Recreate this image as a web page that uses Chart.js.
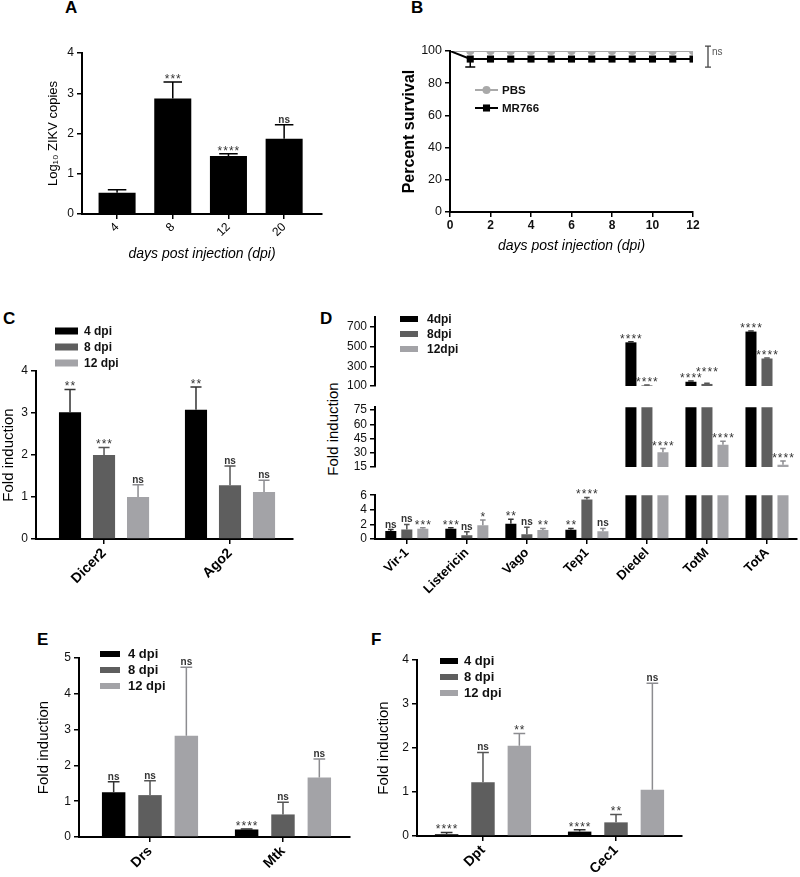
<!DOCTYPE html>
<html>
<head>
<meta charset="utf-8">
<script src="https://cdn.jsdelivr.net/npm/chart.js@4.4.1/dist/chart.umd.min.js"></script>
<style>
  body { margin: 0; background: #fff; }
  #fig { position: relative; width: 800px; height: 877px; overflow: hidden; font-family: "Liberation Sans", Arial, sans-serif; }
  #fig canvas { position: absolute; }
  .tag { position: absolute; font-weight: bold; font-size: 17px; line-height: 1; }
  .vt { position: absolute; width: 140px; text-align: center; font-size: 15px; line-height: 18px; transform: rotate(-90deg); white-space: nowrap; }
</style>
</head>
<body>
<div id="fig">
  <div class="tag" style="left:65px;top:-1px">A</div>
  <div class="tag" style="left:411px;top:-1px">B</div>
  <div class="tag" style="left:3px;top:310px">C</div>
  <div class="tag" style="left:320px;top:310px">D</div>
  <div class="tag" style="left:37px;top:631px">E</div>
  <div class="tag" style="left:371px;top:631px">F</div>
  <div class="vt" style="left:263px;top:420px">Fold induction</div>
  <canvas id="cA"></canvas>
  <canvas id="cB"></canvas>
  <canvas id="cC"></canvas>
  <canvas id="cDtop"></canvas>
  <canvas id="cDmid"></canvas>
  <canvas id="cDbot"></canvas>
  <canvas id="cE"></canvas>
  <canvas id="cF"></canvas>
</div>
<script>
// ---- data ----

// A: viral load
const DPI_A = ['4', '8', '12', '20'];
const ZIKV = [0.53, 2.87, 1.44, 1.87];
const ZIKV_ERR = [0.60, 3.28, 1.50, 2.22];
const ZIKV_SIG = ['', '***', '****', 'ns'];
const A_TICKS = [0, 1, 2, 3, 4];

// B: survival
const DAYS = [0, 1, 2, 3, 4, 5, 6, 7, 8, 9, 10, 11, 12];
const PBS = [100, 100, 100, 100, 100, 100, 100, 100, 100, 100, 100, 100, 100];
const MR766 = [100, 95, 95, 95, 95, 95, 95, 95, 95, 95, 95, 95, 95];
const MR766_LOW = [null, 90, null, null, null, null, null, null, null, null, null, null, null];
const B_NS_RANGE = [90, 103];
const B_TICKS_X = [0, 2, 4, 6, 8, 10, 12];
const B_TICKS_Y = [0, 20, 40, 60, 80, 100];

// C: RNAi genes
const GENES_C = ['Dicer2', 'Ago2'];
const C_4 = [3.02, 3.08], C_4_ERR = [3.56, 3.62], C_4_SIG = ['**', '**'];
const C_8 = [2.00, 1.28], C_8_ERR = [2.18, 1.74], C_8_SIG = ['***', 'ns'];
const C_12 = [1.00, 1.12], C_12_ERR = [1.29, 1.40], C_12_SIG = ['ns', 'ns'];
const C_TICKS = [0, 1, 2, 3, 4];

// D: broken axis, three segments
const GENES_D = ['Vir-1', 'Listericin', 'Vago', 'Tep1', 'Diedel', 'TotM', 'TotA'];
const D_4 = [1.1, 1.4, 2.1, 1.28, 543, 143, 652];
const D_4_ERR = [1.3, 1.55, 2.7, 1.45, 548, 150, 658];
const D_4_SIG = ['ns', '***', '**', '**', '****', '****', '****'];
const D_8 = [1.3, 0.5, 0.64, 5.4, 106, 121, 379];
const D_8_ERR = [2.0, 1.0, 1.6, 5.7, 110, 128, 384];
const D_8_SIG = ['ns', 'ns', 'ns', '****', '****', '****', '****'];
const D_12 = [1.4, 1.9, 1.24, 1.06, 30.6, 38.4, 17.5];
const D_12_ERR = [1.55, 2.6, 1.45, 1.45, 34.4, 42.2, 21.3];
const D_12_SIG = ['***', '*', '**', 'ns', '****', '****', '****'];
const D_TOP_TICKS = [100, 300, 500, 700];
const D_MID_TICKS = [15, 30, 45, 60, 75];
const D_BOT_TICKS = [0, 2, 4, 6];

// E: Toll pathway
const GENES_E = ['Drs', 'Mtk'];
const E_4 = [1.25, 0.21], E_4_ERR = [1.54, 0.22], E_4_SIG = ['ns', '****'];
const E_8 = [1.17, 0.63], E_8_ERR = [1.57, 0.97], E_8_SIG = ['ns', 'ns'];
const E_12 = [2.83, 1.66], E_12_ERR = [4.74, 2.18], E_12_SIG = ['ns', 'ns'];
const E_TICKS = [0, 1, 2, 3, 4, 5];

// F: IMD pathway
const GENES_F = ['Dpt', 'Cec1'];
const F_4 = [0.04, 0.10], F_4_ERR = [0.08, 0.14], F_4_SIG = ['****', '****'];
const F_8 = [1.22, 0.31], F_8_ERR = [1.90, 0.49], F_8_SIG = ['ns', '**'];
const F_12 = [2.05, 1.05], F_12_ERR = [2.33, 3.47], F_12_SIG = ['**', 'ns'];
const F_TICKS = [0, 1, 2, 3, 4];

const SERIES = ['4 dpi', '8 dpi', '12 dpi'];
const SERIES_D = ['4dpi', '8dpi', '12dpi'];

// ---- styling ----
const FONT = '"Liberation Sans", Arial, "DejaVu Sans", sans-serif';
const COL = ['#000000', '#5e5e5e', '#a3a3a7'];
const ERRCOL = ['#333333', '#555555', '#8c8c90'];

Chart.defaults.font.family = FONT;
Chart.defaults.color = '#000';
Chart.defaults.animation = false;

// error bars + significance labels
const sigMarks = {
  id: 'sigMarks',
  afterDatasetsDraw(chart) {
    const ctx = chart.ctx, ys = chart.scales.y;
    const placed = [];
    ctx.save();
    chart.data.datasets.forEach((ds, i) => {
      const meta = chart.getDatasetMeta(i);
      meta.data.forEach((el, j) => {
        const v = ds.data[j].y;
        if (v < ys.min - 1e-9 || v > ys.max + 1e-9) return;
        const half = el.width ? el.width * 0.25 : 5;
        const base = ys.getPixelForValue(v);
        let tip = base;
        ctx.strokeStyle = ds.errColor || '#000';
        ctx.lineWidth = 1.5;
        const bar = (to) => {
          ctx.beginPath();
          ctx.moveTo(el.x, base); ctx.lineTo(el.x, to);
          ctx.moveTo(el.x - half, to); ctx.lineTo(el.x + half, to);
          ctx.stroke();
        };
        if (ds.errHigh && ds.errHigh[j] != null) { tip = ys.getPixelForValue(ds.errHigh[j]); bar(tip); }
        if (ds.errLow && ds.errLow[j] != null) bar(ys.getPixelForValue(ds.errLow[j]));

        const s = ds.sig && ds.sig[j];
        if (!s) return;
        const star = s[0] === '*';
        ctx.font = star ? '12px ' + FONT : 'bold 10px ' + FONT;
        ctx.letterSpacing = star ? '1px' : '0px';
        const w = ctx.measureText(s).width;
        let yb = star ? tip + 1 : tip - 2;
        const up = star ? 9 : 8, down = star ? 4 : 0;
        const box = { l: el.x - w / 2, r: el.x + w / 2, t: yb - up, b: yb - down };
        let moved = true;
        while (moved) {
          moved = false;
          for (const p of placed) {
            if (Math.min(box.r, p.r) - Math.max(box.l, p.l) > 2 && box.b > p.t && box.t < p.b) {
              const dy = box.b - p.t + 1;
              box.t -= dy; box.b -= dy; yb -= dy; moved = true;
            }
          }
        }
        placed.push(box);
        ctx.fillStyle = '#333';
        ctx.textAlign = 'center';
        ctx.textBaseline = 'alphabetic';
        ctx.fillText(s, el.x + (star ? 0.5 : 0), yb);
      });
    });
    ctx.restore();
  }
};

// legend drawn inside the plot
const keyBox = {
  id: 'keyBox',
  afterDraw(chart, args, o) {
    if (!o.on) return;
    const ctx = chart.ctx, a = chart.chartArea;
    ctx.save();
    ctx.font = o.font;
    ctx.textBaseline = 'middle';
    ctx.textAlign = 'left';
    chart.data.datasets.forEach((ds, i) => {
      const x = a.left + o.dx, y = a.top + o.dy + i * o.step;
      if (o.line) {
        ctx.strokeStyle = ds.borderColor; ctx.lineWidth = 2;
        ctx.beginPath(); ctx.moveTo(x, y); ctx.lineTo(x + o.w, y); ctx.stroke();
        ctx.fillStyle = ds.backgroundColor;
        Chart.helpers.drawPoint(ctx, { pointStyle: ds.pointStyle, radius: ds.legendRadius, rotation: 0, borderWidth: 0 }, x + o.w / 2, y);
      } else {
        ctx.fillStyle = ds.backgroundColor;
        ctx.fillRect(x, y - o.h / 2, o.w, o.h);
      }
      ctx.fillStyle = '#111';
      ctx.fillText(ds.label, x + o.w + o.gap, y + 0.5);
    });
    ctx.restore();
  }
};

// "ns" bracket right of the survival plot
const nsBracket = {
  id: 'nsBracket',
  afterDraw(chart, args, o) {
    if (!o.range) return;
    const ctx = chart.ctx, ys = chart.scales.y, a = chart.chartArea;
    const x = a.right + o.dx;
    const y1 = ys.getPixelForValue(o.range[0]), y2 = ys.getPixelForValue(o.range[1]);
    ctx.save();
    ctx.strokeStyle = '#444'; ctx.lineWidth = 1.3;
    ctx.beginPath();
    ctx.moveTo(x, y1); ctx.lineTo(x, y2);
    ctx.moveTo(x - 3, y1); ctx.lineTo(x + 3, y1);
    ctx.moveTo(x - 3, y2); ctx.lineTo(x + 3, y2);
    ctx.stroke();
    ctx.fillStyle = '#555';
    ctx.font = '10px ' + FONT;
    ctx.textBaseline = 'middle';
    ctx.fillText(o.text, x + 4, (y1 + y2) / 2 - 4);
    ctx.restore();
  }
};

function place(cv, area, m) {
  const w = area.r - area.l + m.l + m.r, h = area.b - area.t + m.t + m.b;
  cv.width = w; cv.height = h;
  cv.style.left = (area.l - m.l) + 'px';
  cv.style.top = (area.t - m.t) + 'px';
  cv.style.width = w + 'px';
  cv.style.height = h + 'px';
}

function yAxis(o, m) {
  return {
    type: 'linear', min: o.min, max: o.max,
    afterBuildTicks: s => { s.ticks = o.ticks.map(v => ({ value: v })); },
    afterFit: s => { s.width = m.l; },
    border: { display: true, color: '#000', width: 2 },
    grid: { display: true, drawOnChartArea: false, drawTicks: true, tickLength: 5, color: '#000', lineWidth: 1.5 },
    ticks: { autoSkip: false, font: o.font || { size: 12 }, color: '#111', padding: 3 },
    title: o.title
      ? { display: true, text: o.title, font: o.titleFont || { size: 15 }, padding: 0, color: '#000' }
      : { display: false }
  };
}

function barPanel(id, area, m, cfg) {
  const cv = document.getElementById(id);
  place(cv, area, m);
  const xs = {
    type: 'linear', display: !cfg.noX, min: cfg.xmin, max: cfg.xmax, offset: false,
    afterBuildTicks: s => { s.ticks = cfg.labels.map((_, i) => ({ value: i })); },
    afterFit: s => { s.height = m.b; },
    border: { display: true, color: '#000', width: 2 },
    grid: { display: true, drawOnChartArea: false, offset: false, tickLength: 5, color: '#000', lineWidth: 1.5 },
    ticks: { autoSkip: false, minRotation: 45, maxRotation: 45, padding: 1, font: cfg.xFont, color: '#000',
             callback: v => cfg.labels[v] },
    title: cfg.xTitle
      ? { display: true, text: cfg.xTitle, font: { size: 14, style: 'italic' }, padding: { top: 0, bottom: 0 }, color: '#000' }
      : { display: false }
  };
  return new Chart(cv, {
    type: 'bar',
    data: {
      datasets: cfg.sets.map(s => ({
        label: s.label,
        data: s.values.map((v, i) => ({ x: i, y: v })),
        errHigh: s.err, sig: s.sig, errColor: s.errColor,
        backgroundColor: s.color,
        categoryPercentage: cfg.cat, barPercentage: cfg.bar,
        clip: 0
      }))
    },
    options: {
      responsive: false,
      layout: { padding: { left: 0, right: m.r, top: m.t, bottom: cfg.noX ? m.b : 0 } },
      scales: { x: xs, y: yAxis(cfg.y, m) },
      plugins: { legend: { display: false }, tooltip: { enabled: false }, keyBox: cfg.key || {} }
    },
    plugins: [sigMarks, keyBox]
  });
}

function threeSets(labels, v, e, s) {
  return labels.map((lab, k) => ({ label: lab, values: v[k], err: e[k], sig: s[k], color: COL[k], errColor: ERRCOL[k] }));
}

// ---- A ----
barPanel('cA', { l: 82, t: 53, r: 322, b: 214 }, { l: 36, t: 20, r: 15, b: 49 }, {
  labels: DPI_A, xmin: -0.63, xmax: 3.68, cat: 1, bar: 0.665,
  xFont: { size: 12 }, xTitle: 'days post injection (dpi)',
  y: { min: 0, max: 4, ticks: A_TICKS, title: 'Log\u2081\u2080 ZIKV copies', titleFont: { size: 13 } },
  sets: [{ label: 'ZIKV', values: ZIKV, err: ZIKV_ERR, sig: ZIKV_SIG, color: '#000', errColor: '#000' }]
});

// ---- B ----
(function () {
  const cv = document.getElementById('cB');
  const area = { l: 450, t: 51, r: 693, b: 212 }, m = { l: 50, t: 15, r: 40, b: 43 };
  place(cv, area, m);
  new Chart(cv, {
    type: 'line',
    data: {
      datasets: [
        { label: 'PBS', data: DAYS.map((d, i) => ({ x: d, y: PBS[i] })),
          borderColor: '#a9a9a9', backgroundColor: '#a9a9a9', borderWidth: 2,
          pointStyle: 'circle', pointRadius: DAYS.map(d => d ? 4 : 0), pointBorderWidth: 0, legendRadius: 4, order: 2 },
        { label: 'MR766', data: DAYS.map((d, i) => ({ x: d, y: MR766[i] })),
          borderColor: '#000', backgroundColor: '#000', borderWidth: 2,
          pointStyle: 'rect', pointRadius: DAYS.map(d => d ? 5 : 0), pointBorderWidth: 0, legendRadius: 5,
          errLow: MR766_LOW, errColor: '#000', order: 1 }
      ]
    },
    options: {
      responsive: false,
      layout: { padding: { left: 0, right: m.r, top: m.t, bottom: 0 } },
      scales: {
        x: {
          type: 'linear', min: 0, max: 12,
          afterBuildTicks: s => { s.ticks = B_TICKS_X.map(v => ({ value: v })); },
          afterFit: s => { s.height = m.b; },
          border: { display: true, color: '#000', width: 2 },
          grid: { display: true, drawOnChartArea: false, tickLength: 5, color: '#000', lineWidth: 1.5 },
          ticks: { maxRotation: 0, autoSkip: false, padding: 1, font: { size: 12, weight: 'bold' }, color: '#111' },
          title: { display: true, text: 'days post injection (dpi)', font: { size: 14, style: 'italic' }, padding: 0, color: '#000' }
        },
        y: yAxis({ min: 0, max: 100, ticks: B_TICKS_Y, title: 'Percent survival', titleFont: { size: 16, weight: 'bold' }, font: { size: 12.5 } }, m)
      },
      plugins: {
        legend: { display: false }, tooltip: { enabled: false },
        keyBox: { on: true, line: true, dx: 25, dy: 39, step: 18, w: 23, gap: 4, font: 'bold 11.5px ' + FONT },
        nsBracket: { range: B_NS_RANGE, dx: 15, text: 'ns' }
      }
    },
    plugins: [sigMarks, keyBox, nsBracket]
  });
})();

// ---- C ----
barPanel('cC', { l: 36, t: 371, r: 293, b: 539 }, { l: 36, t: 60, r: 10, b: 50 }, {
  labels: GENES_C, xmin: -0.54, xmax: 1.5, cat: 0.81, bar: 0.65,
  xFont: { size: 14, weight: 'bold' },
  y: { min: 0, max: 4, ticks: C_TICKS, title: 'Fold induction' },
  sets: threeSets(SERIES, [C_4, C_8, C_12], [C_4_ERR, C_8_ERR, C_12_ERR], [C_4_SIG, C_8_SIG, C_12_SIG]),
  key: { on: true, dx: 19, dy: -40, step: 16, w: 23, h: 7, gap: 6, font: 'bold 12px ' + FONT }
});

// ---- D (three stacked segments of one broken axis) ----
const D_SETS = threeSets(SERIES_D, [D_4, D_8, D_12], [D_4_ERR, D_8_ERR, D_12_ERR], [D_4_SIG, D_8_SIG, D_12_SIG]);
const D_X = { labels: GENES_D, xmin: -0.53, xmax: 6.5, cat: 0.8, bar: 0.69, xFont: { size: 13, weight: 'bold' }, sets: D_SETS };
barPanel('cDtop', { l: 375, t: 317, r: 797, b: 394 }, { l: 40, t: 12, r: 3, b: 8 }, Object.assign({}, D_X, {
  noX: true, y: { min: 100, max: 800, ticks: D_TOP_TICKS },
  key: { on: true, dx: 25, dy: 2, step: 15, w: 18, h: 6, gap: 9, font: 'bold 12px ' + FONT }
}));
barPanel('cDmid', { l: 375, t: 407, r: 797, b: 475 }, { l: 40, t: 10, r: 3, b: 8 }, Object.assign({}, D_X, {
  noX: true, y: { min: 15, max: 78, ticks: D_MID_TICKS }
}));
barPanel('cDbot', { l: 375, t: 493, r: 797, b: 539 }, { l: 40, t: 8, r: 3, b: 64 }, Object.assign({}, D_X, {
  y: { min: 0, max: 6, ticks: D_BOT_TICKS }
}));

// ---- E ----
barPanel('cE', { l: 79, t: 658, r: 350, b: 837 }, { l: 44, t: 15, r: 10, b: 40 }, {
  labels: GENES_E, xmin: -0.534, xmax: 1.504, cat: 0.82, bar: 0.645,
  xFont: { size: 14, weight: 'bold' },
  y: { min: 0, max: 5, ticks: E_TICKS, title: 'Fold induction' },
  sets: threeSets(SERIES, [E_4, E_8, E_12], [E_4_ERR, E_8_ERR, E_12_ERR], [E_4_SIG, E_8_SIG, E_12_SIG]),
  key: { on: true, dx: 21, dy: -4, step: 16, w: 20, h: 6, gap: 8, font: 'bold 13px ' + FONT }
});

// ---- F ----
barPanel('cF', { l: 417, t: 660, r: 682, b: 836 }, { l: 42, t: 12, r: 10, b: 41 }, {
  labels: GENES_F, xmin: -0.496, xmax: 1.496, cat: 0.82, bar: 0.645,
  xFont: { size: 14, weight: 'bold' },
  y: { min: 0, max: 4, ticks: F_TICKS, title: 'Fold induction' },
  sets: threeSets(SERIES, [F_4, F_8, F_12], [F_4_ERR, F_8_ERR, F_12_ERR], [F_4_SIG, F_8_SIG, F_12_SIG]),
  key: { on: true, dx: 23, dy: 1, step: 16, w: 18, h: 6, gap: 6, font: 'bold 13px ' + FONT }
});
</script>
</body>
</html>
